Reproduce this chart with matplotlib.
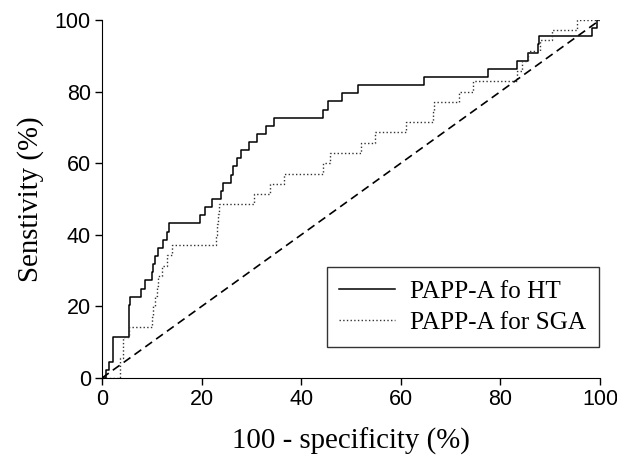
import matplotlib.pyplot as plt

# ROC data (percent)
ht_fpr = [0, 0.9, 1.5, 2.3, 5.4, 5.6, 7.8, 8.6, 10.0, 10.3, 10.6, 11.3, 12.2, 13.0, 13.5,
          19.7, 20.7, 22.0, 23.8, 24.4, 26.0, 26.4, 27.2, 27.9, 29.5, 31.2, 32.9, 34.6,
          44.4, 45.4, 48.1, 51.4, 64.6, 77.6, 83.3, 85.5, 87.6, 87.8, 98.3, 99.5, 100]
ht_tpr = [0, 2.3, 4.5, 11.4, 20.5, 22.7, 25.0, 27.3, 29.5, 31.8, 34.1, 36.4, 38.6, 40.9, 43.2,
          45.5, 47.7, 50.0, 52.3, 54.5, 56.8, 59.1, 61.4, 63.6, 65.9, 68.2, 70.5, 72.7,
          75.0, 77.3, 79.5, 81.8, 84.1, 86.4, 88.6, 90.9, 93.2, 95.5, 97.7, 100, 100]

sga_fpr = [0, 3.6, 4.2, 5.5, 10.0, 10.3, 10.6, 11.0, 11.3, 12.0, 13.0, 14.0,
           22.8, 23.0, 23.2, 23.4, 30.6, 33.7, 36.5, 44.4, 45.8, 52.1, 54.8, 61.1,
           66.4, 66.6, 71.6, 74.6, 83.3, 84.3, 85.6, 88.0, 90.3, 95.3, 100]
sga_tpr = [0, 5.7, 11.4, 14.3, 17.1, 20.0, 22.9, 25.7, 28.6, 31.4, 34.3, 37.1,
           40.0, 42.9, 45.7, 48.6, 51.4, 54.3, 57.1, 60.0, 62.9, 65.7, 68.6, 71.4,
           74.3, 77.1, 80.0, 82.9, 85.7, 88.6, 91.4, 94.3, 97.1, 100, 100]

ref_line = [0, 100]
ticks = [0, 20, 40, 60, 80, 100]

serif = 'Liberation Serif'
sans = 'Liberation Sans'

fig = plt.figure(figsize=(6.17, 4.62), dpi=100)
ax = fig.add_axes([0.1653, 0.1818, 0.8071, 0.7749])

ax.plot(ht_fpr, ht_tpr, color='black', lw=1.1, drawstyle='steps-post', label='PAPP-A fo HT')
ax.plot(sga_fpr, sga_tpr, color='#333333', lw=1.0, ls=':', drawstyle='steps-post', label='PAPP-A for SGA')
ax.plot(ref_line, ref_line, color='black', lw=1.2, dashes=(5, 3))

ax.set_xlim(0, 100)
ax.set_ylim(0, 100)
ax.set_xticks(ticks)
ax.set_yticks(ticks)
ax.spines['top'].set_visible(False)
ax.spines['right'].set_visible(False)
ax.tick_params(direction='out', length=5, width=1, labelsize=15.5, pad=3)
for lab in ax.get_xticklabels() + ax.get_yticklabels():
    lab.set_fontfamily(sans)

ax.set_xlabel('100 - specificity (%)', fontsize=20.8, family=serif, labelpad=13)
ax.set_ylabel('Senstivity (%)', fontsize=20.8, family=serif, labelpad=8)

leg = ax.legend(loc='lower right', bbox_to_anchor=(0.998, 0.087), borderaxespad=0,
                prop={'family': serif, 'size': 18.2}, fancybox=False, frameon=True,
                handlelength=2.2, borderpad=0.5, labelspacing=0.35, handletextpad=0.6)
leg.get_frame().set_edgecolor('black')
leg.get_frame().set_linewidth(1.0)

fig.savefig('out.png', dpi=100)
